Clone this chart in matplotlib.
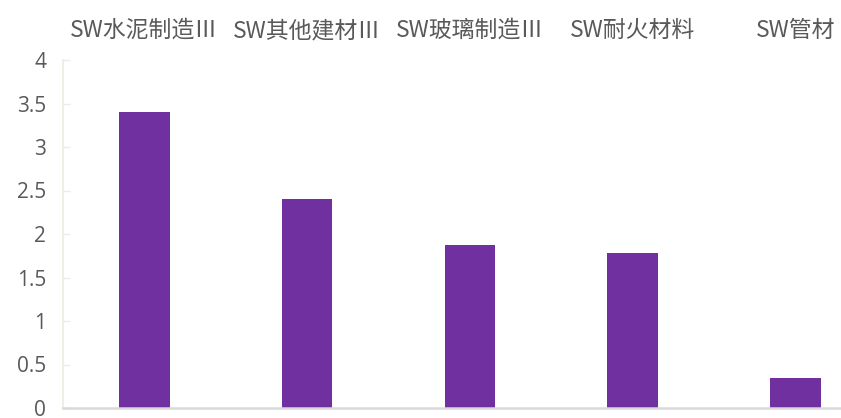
import matplotlib
matplotlib.use('Agg')
import matplotlib.pyplot as plt

# Data
categories = ['SW水泥制造Ⅲ', 'SW其他建材Ⅲ', 'SW玻璃制造Ⅲ', 'SW耐火材料', 'SW管材']
values = [3.40, 2.40, 1.87, 1.78, 0.35]
y_ticks = [0, 0.5, 1, 1.5, 2, 2.5, 3, 3.5, 4]
y_tick_labels = ['0', '0.5', '1', '1.5', '2', '2.5', '3', '3.5', '4']

text_color = '#595959'
bar_color = '#7030A0'

fig = plt.figure(figsize=(8.41, 4.18), dpi=100)
ax = fig.add_axes([63 / 841, 10 / 418, 778 / 841, 348 / 418])

x = list(range(len(categories)))
ax.bar(x, values, width=0.31, color=bar_color, zorder=2)

ax.set_xlim(-0.5, -0.5 + 778 / 162.75)
ax.set_ylim(0, 4)

# top category labels
ax.xaxis.tick_top()
ax.set_xticks(x)
ax.set_xticklabels(categories, fontsize=16.5, color=text_color,
                   family=['Noto Sans CJK SC', 'DejaVu Sans'], fontweight='light')
ax.tick_params(axis='x', which='both', length=0, pad=13)

ax.set_yticks(y_ticks)
ax.set_yticklabels(y_tick_labels, fontsize=15, color=text_color, family='Open Sans')
ax.tick_params(axis='y', direction='in', length=5, width=1, color='#EEEBE0', pad=12)

for side in ['top', 'right']:
    ax.spines[side].set_visible(False)
ax.spines['left'].set_color('#EEEBE0')
ax.spines['left'].set_linewidth(1.2)
ax.spines['bottom'].set_color('#D9D9D9')
ax.spines['bottom'].set_linewidth(1.8)
ax.spines['bottom'].set_zorder(3)

fig.savefig('out.png', dpi=100)
